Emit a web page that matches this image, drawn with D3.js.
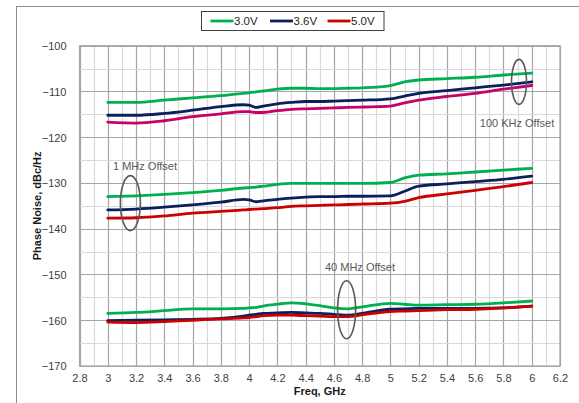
<!DOCTYPE html>
<html><head><meta charset="utf-8">
<script src="https://cdn.jsdelivr.net/npm/d3@7"></script>
<style>body{margin:0;background:#fff}svg{display:block;font-family:"Liberation Sans",Arial,sans-serif}</style>
</head><body><svg id="c" width="579" height="403"></svg>
<script>
const freqs = [3.0,3.2,3.4,3.6,3.8,3.96,4.0,4.05,4.1,4.2,4.3,4.4,4.5,4.6,4.7,4.8,5.0,5.1,5.2,5.4,5.6,5.8,6.0];
const k100_30 = [-112.4,-112.4,-111.9,-111.4,-110.9,-110.4,-110.3,-110.1,-109.9,-109.5,-109.3,-109.3,-109.4,-109.4,-109.3,-109.2,-108.7,-107.9,-107.5,-107.2,-106.9,-106.4,-106.0];
const k100_36 = [-115.2,-115.2,-114.8,-114.1,-113.3,-112.9,-113.0,-113.5,-113.2,-112.7,-112.4,-112.2,-112.2,-112.1,-112.0,-111.9,-111.6,-111.0,-110.4,-109.8,-109.2,-108.6,-107.9];
const k100_50 = [-116.7,-116.9,-116.4,-115.5,-114.9,-114.4,-114.4,-114.6,-114.6,-114.2,-113.9,-113.8,-113.7,-113.6,-113.5,-113.4,-113.2,-112.5,-111.9,-111.1,-110.4,-109.5,-108.7];
const m1_30 = [-133.0,-132.8,-132.5,-132.1,-131.6,-131.1,-131.0,-130.9,-130.7,-130.3,-130.1,-130.1,-130.1,-130.1,-130.1,-130.1,-129.9,-128.9,-128.3,-128.0,-127.6,-127.2,-126.8];
const m1_36 = [-135.9,-135.7,-135.3,-134.8,-134.2,-133.6,-133.7,-134.1,-133.9,-133.6,-133.3,-133.1,-133.0,-133.0,-132.9,-132.9,-132.8,-131.8,-130.7,-130.2,-129.7,-129.2,-128.5];
const m1_50 = [-137.7,-137.6,-137.2,-136.6,-136.2,-135.9,-135.8,-135.7,-135.6,-135.4,-135.1,-135.0,-134.9,-134.8,-134.7,-134.6,-134.4,-134.0,-133.2,-132.4,-131.6,-130.8,-129.9];
const m40_30 = [-158.5,-158.3,-157.9,-157.5,-157.5,-157.4,-157.3,-157.2,-156.9,-156.5,-156.2,-156.4,-156.8,-157.3,-157.5,-157.1,-156.3,-156.5,-156.7,-156.6,-156.5,-156.2,-155.8];
const m40_36 = [-160.1,-160.0,-159.9,-159.8,-159.6,-159.1,-158.9,-158.7,-158.5,-158.4,-158.3,-158.4,-158.5,-158.7,-158.9,-158.5,-157.6,-157.5,-157.4,-157.4,-157.4,-157.3,-156.9];
const m40_50 = [-160.4,-160.5,-160.3,-160.0,-159.7,-159.5,-159.4,-159.2,-159.0,-158.9,-158.9,-159.0,-159.1,-159.2,-159.2,-158.8,-158.1,-158.0,-157.9,-157.7,-157.6,-157.3,-156.9];
const legendLabels = ["3.0V","3.6V","5.0V"];
const xTicks = [2.8,3,3.2,3.4,3.6,3.8,4,4.2,4.4,4.6,4.8,5,5.2,5.4,5.6,5.8,6,6.2];
const yTicks = [-100,-110,-120,-130,-140,-150,-160,-170];
const annotations = ["100 KHz Offset","1 MHz Offset","40 MHz Offset"];

const C_GREEN="#00b050", C_NAVY="#0a1f5c", C_RED="#cc0000", C_MAG="#c8006a";
const series = [
  {v:k100_30,c:C_GREEN},{v:k100_36,c:C_NAVY},{v:k100_50,c:C_MAG},
  {v:m1_30,c:C_GREEN},{v:m1_36,c:C_NAVY},{v:m1_50,c:C_RED},
  {v:m40_30,c:C_GREEN},{v:m40_36,c:C_NAVY},{v:m40_50,c:C_RED}
];

const svg = d3.select("#c");
const L=79.5, R=560, T=45.7, B=366;
const x = d3.scaleLinear().domain([2.8,6.2]).range([L,R]);
const y = d3.scaleLinear().domain([-170,-100]).range([B,T]);

// outer frame
svg.append("rect").attr("x",16.5).attr("y",6.5).attr("width",600).attr("height",420)
  .attr("fill","none").attr("stroke","#8c8c8c").attr("stroke-width",1);

// grid
const g = svg.append("g");
d3.range(2.8,6.2001,0.1).forEach((f,i)=>{
  g.append("line").attr("x1",Math.round(x(f))+0.5).attr("x2",Math.round(x(f))+0.5).attr("y1",T).attr("y2",B)
   .attr("stroke", i%2===0 ? "#a6a6a6" : "#d9d9d9").attr("stroke-width",1.2);
});
d3.range(-170,-99.99,5).forEach((v,i)=>{
  g.append("line").attr("y1",Math.round(y(v))+0.5).attr("y2",Math.round(y(v))+0.5).attr("x1",L).attr("x2",R)
   .attr("stroke", i%2===0 ? "#a6a6a6" : "#d9d9d9").attr("stroke-width",1.2);
});
g.append("rect").attr("x",L).attr("y",T).attr("width",R-L).attr("height",B-T)
  .attr("fill","none").attr("stroke","#a6a6a6").attr("stroke-width",1.2);

// axes labels
const xa = d3.axisBottom(x).tickValues(xTicks).tickSize(0).tickFormat(d=>d3.format("")(+d.toFixed(1)));
svg.append("g").attr("transform",`translate(0,${B+5})`).call(xa)
  .call(s=>s.select(".domain").remove())
  .selectAll("text").attr("font-size",11).attr("fill","#404040").attr("font-family","Liberation Sans, Arial");
const ya = d3.axisLeft(y).tickValues(yTicks).tickSize(0).tickFormat(d3.format(""));
svg.append("g").attr("transform",`translate(${L-10},0)`).call(ya)
  .call(s=>s.select(".domain").remove())
  .selectAll("text").attr("font-size",11).attr("fill","#404040").attr("font-family","Liberation Sans, Arial").attr("dy","0.35em");

svg.append("text").attr("x",(L+R)/2).attr("y",395).attr("text-anchor","middle")
  .attr("font-size",11).attr("font-weight","bold").attr("fill","#1a1a1a").text("Freq, GHz");
svg.append("text").attr("transform",`translate(41,${(T+B)/2}) rotate(-90)`).attr("text-anchor","middle")
  .attr("font-size",11).attr("font-weight","bold").attr("fill","#1a1a1a").text("Phase Noise, dBc/Hz");

// lines
const line = d3.line().x((d,i)=>x(freqs[i])).y(d=>y(d)).curve(d3.curveMonotoneX);
series.forEach(s=>{
  svg.append("path").attr("d",line(s.v)).attr("fill","none").attr("stroke",s.c)
    .attr("stroke-width",2.8).attr("stroke-linejoin","round").attr("stroke-linecap","round");
});

// annotations
const ann = [
  {cx:5.91,cy:-107.9,rx:7.5,ry:22.5,tx:517,ty:127,t:annotations[0]},
  {cx:3.16,cy:-134.4,rx:10,ry:27.5,tx:145,ty:170,t:annotations[1]},
  {cx:4.69,cy:-157.7,rx:9,ry:29,tx:360,ty:271,t:annotations[2]}
];
ann.forEach(a=>{
  svg.append("ellipse").attr("cx",x(a.cx)).attr("cy",y(a.cy)).attr("rx",a.rx).attr("ry",a.ry)
    .attr("fill","none").attr("stroke","#595959").attr("stroke-width",1.6);
  svg.append("text").attr("x",a.tx).attr("y",a.ty).attr("text-anchor","middle")
    .attr("font-size",11).attr("fill","#595959").text(a.t);
});

// legend
const lg = svg.append("g");
lg.append("rect").attr("x",201.5).attr("y",11.5).attr("width",182.5).attr("height",19)
  .attr("fill","#fff").attr("stroke","#404040").attr("stroke-width",1);
const lcols=[C_GREEN,C_NAVY,C_RED], lx=[210.5,270,327.5];
legendLabels.forEach((t,i)=>{
  lg.append("line").attr("x1",lx[i]).attr("x2",lx[i]+23).attr("y1",21).attr("y2",21)
    .attr("stroke",lcols[i]).attr("stroke-width",2.8);
  lg.append("text").attr("x",lx[i]+23.5).attr("y",25).attr("font-size",11.5).attr("fill","#262626").text(t);
});
</script></body></html>
